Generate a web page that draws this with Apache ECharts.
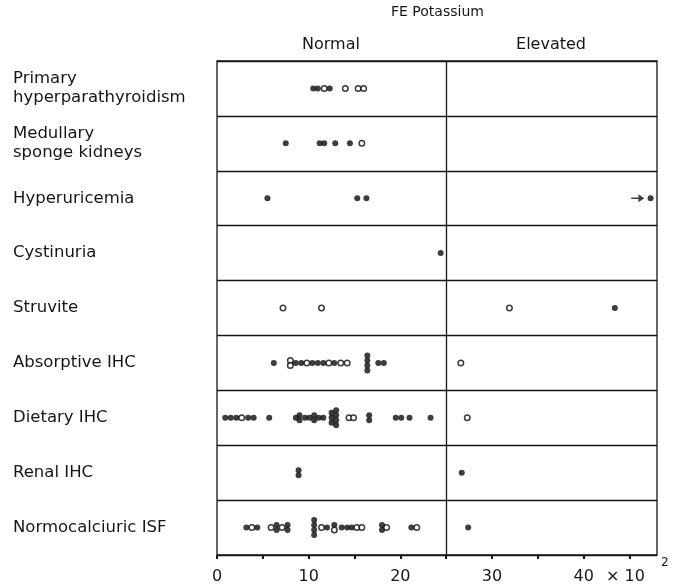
<!DOCTYPE html>
<html>
<head>
<meta charset="utf-8">
<script src="https://cdn.jsdelivr.net/npm/echarts@6/dist/echarts.min.js"></script>
<style>
  html, body { margin: 0; padding: 0; background: #fff; }
  #chart { width: 686px; height: 587px; }
</style>
</head>
<body>
<div id="chart"></div>
<script>
// rows, top to bottom
const categories = [
  'Primary\nhyperparathyroidism',
  'Medullary\nsponge kidneys',
  'Hyperuricemia',
  'Cystinuria',
  'Struvite',
  'Absorptive IHC',
  'Dietary IHC',
  'Renal IHC',
  'Normocalciuric ISF'
];

// FE potassium (x 10^-2), filled circles, one list per row
const filledValues = [
  [10.5, 11.0, 12.3],
  [7.5, 11.2, 11.7, 12.9, 14.5],
  [5.5, 15.3, 16.3, 47.3],
  [24.4],
  [43.4],
  [6.2, 8.6, 9.2, 10.4, 11.0, 11.6, 12.8, 16.4, 16.4, 16.4, 16.4, 17.6, 18.2],
  [0.9, 1.5, 2.1, 3.4, 4.0, 5.7, 8.6, 9.0, 9.0, 9.6, 10.1, 10.6, 10.6, 11.1, 11.6,
   12.5, 12.5, 12.5, 13.0, 13.0, 13.0, 13.0, 16.6, 16.6, 19.5, 20.1, 21.0, 23.3],
  [8.9, 8.9, 26.7],
  [3.2, 4.4, 6.5, 6.5, 7.7, 7.7, 10.6, 10.6, 10.6, 10.6, 12.0, 12.8, 13.6, 14.2, 14.7,
   18.0, 18.0, 21.2, 27.4]
];

// open circles
const openValues = [
  [11.7, 14.0, 15.4, 16.0],
  [15.8],
  [],
  [],
  [7.2, 11.4, 31.9],
  [8.0, 8.0, 9.8, 12.2, 13.5, 14.2, 26.6],
  [2.7, 14.4, 14.9, 27.3],
  [],
  [3.8, 5.9, 7.1, 11.4, 12.8, 15.25, 15.8, 18.5, 21.8]
];

// off-scale arrow (Hyperuricemia)
const arrowRow = 2;
const arrowValue = 45.9;

const xTicks = [0, 10, 20, 30, 40];
const normalLimit = 25;

const STACK_GAP = 5;

// equal values in a row are drawn one above the other
const buildPoints = () => {
  const filled = [];
  const open = [];
  categories.forEach((c, row) => {
    const all = filledValues[row].map(v => ({ v, open: false }))
      .concat(openValues[row].map(v => ({ v, open: true })));
    const counts = {};
    all.forEach(p => { counts[p.v] = (counts[p.v] || 0) + 1; });
    const seen = {};
    all.forEach(p => {
      const n = counts[p.v];
      const i = seen[p.v] || 0;
      seen[p.v] = i + 1;
      const level = i - (n - 1) / 2;
      const item = { value: [p.v, row], symbolOffset: [0, level * STACK_GAP] };
      (p.open ? open : filled).push(item);
    });
  });
  return { filled, open };
};

const points = buildPoints();
const font = 'DejaVu Sans';
const ink = '#161616';

const chart = echarts.init(document.getElementById('chart'));

const option = {
  animation: false,
  backgroundColor: '#fff',
  grid: {
    left: 217,
    right: 29,
    top: 61,
    bottom: 32,
    show: true,
    borderColor: ink,
    borderWidth: 1.3
  },
  xAxis: {
    type: 'value',
    min: 0,
    max: 48,
    interval: 5,
    splitLine: { show: false },
    axisLine: { lineStyle: { color: ink, width: 1.3 } },
    axisTick: { show: true, length: 4, lineStyle: { color: ink, width: 2 } },
    axisLabel: {
      margin: 14,
      fontFamily: font,
      fontSize: 16,
      color: ink,
      showMaxLabel: false,
      formatter: v => (xTicks.includes(v) ? String(v) : '')
    }
  },
  yAxis: {
    type: 'category',
    data: categories,
    inverse: true,
    boundaryGap: true,
    axisLine: { show: false },
    axisTick: { show: false },
    splitLine: { show: true, lineStyle: { color: ink, width: 1.3 } },
    axisLabel: {
      align: 'left',
      margin: 204,
      fontFamily: font,
      fontSize: 16.5,
      lineHeight: 19,
      color: ink
    }
  },
  graphic: [
    { type: 'text', left: 441 - 50, top: 5, style: { text: 'FE Potassium', font: '14px "DejaVu Sans"', fill: ink, width: 100, align: 'center' } },
    { type: 'text', x: 331, y: 45, style: { text: 'Normal', font: '16px "DejaVu Sans"', fill: ink, align: 'center', verticalAlign: 'middle' } },
    { type: 'text', x: 551, y: 45, style: { text: 'Elevated', font: '16px "DejaVu Sans"', fill: ink, align: 'center', verticalAlign: 'middle' } },
    { type: 'text', x: 606, y: 577, style: { text: '× 10', font: '16px "DejaVu Sans"', fill: ink, align: 'left', verticalAlign: 'middle' } },
    { type: 'text', x: 661, y: 563, style: { text: '2', font: '12px "DejaVu Sans"', fill: ink, align: 'left', verticalAlign: 'middle' } }
  ],
  series: [
    {
      name: 'filled',
      type: 'scatter',
      symbol: 'circle',
      symbolSize: 6,
      itemStyle: { color: '#0c0c0c' },
      data: points.filled,
      markLine: {
        silent: true,
        symbol: ['none', 'none'],
        label: { show: false },
        lineStyle: { color: ink, type: 'solid', width: 1.3 },
        data: [{ xAxis: normalLimit }]
      }
    },
    {
      name: 'open',
      type: 'scatter',
      symbol: 'circle',
      symbolSize: 5.5,
      itemStyle: { color: '#fff', borderColor: '#0c0c0c', borderWidth: 1.5 },
      data: points.open
    },
    {
      name: 'arrow',
      type: 'scatter',
      symbol: 'path://M0,4L10,4L10,0L18,5L10,10L10,6L0,6Z',
      symbolSize: [13, 8],
      itemStyle: { color: '#0c0c0c' },
      data: [[arrowValue, arrowRow]]
    }
  ]
};

option && chart.setOption(option);
</script>
</body>
</html>
